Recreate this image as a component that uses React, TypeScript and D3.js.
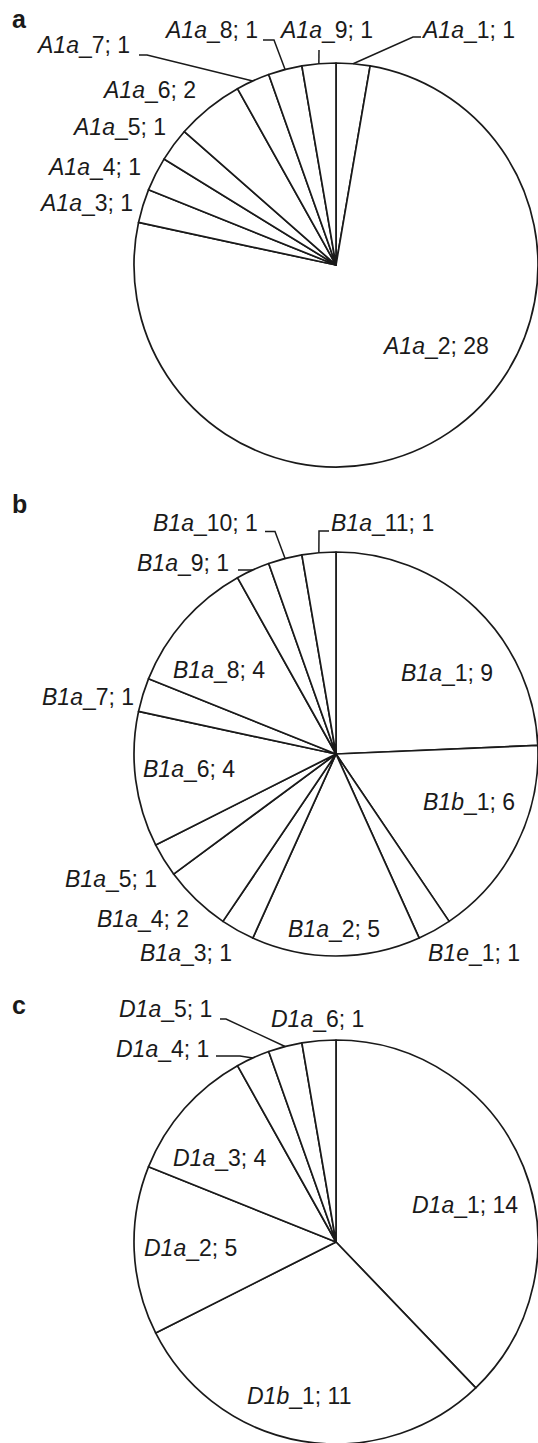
import React from 'react';
import * as d3 from 'd3';

// Panel a
const namesA = ['A1a_1', 'A1a_2', 'A1a_3', 'A1a_4', 'A1a_5', 'A1a_6', 'A1a_7', 'A1a_8', 'A1a_9'];
const valuesA = [1, 28, 1, 1, 1, 2, 1, 1, 1];

// Panel b
const namesB = ['B1a_1', 'B1b_1', 'B1e_1', 'B1a_2', 'B1a_3', 'B1a_4', 'B1a_5', 'B1a_6', 'B1a_7', 'B1a_8', 'B1a_9', 'B1a_10', 'B1a_11'];
const valuesB = [9, 6, 1, 5, 1, 2, 1, 4, 1, 4, 1, 1, 1];

// Panel c
const namesC = ['D1a_1', 'D1b_1', 'D1a_2', 'D1a_3', 'D1a_4', 'D1a_5', 'D1a_6'];
const valuesC = [14, 11, 5, 4, 1, 1, 1];

const W = 538;
const H = 1443;
const R = 202;
const FONT = '"Liberation Sans", Arial, Helvetica, sans-serif';
const INK = '#1a1a1a';

// Label placement relative to each pie centre: text start/baseline and
// optional leader points (the leader starts on the rim at the slice mid-angle).
type LabelLayout = { at: [number, number]; leader?: [number, number][] };

const layoutA: LabelLayout[] = [
  { at: [87, -227], leader: [[77, -228], [85, -228]] },
  { at: [48, 89] },
  { at: [-295, -54] },
  { at: [-287, -90] },
  { at: [-262, -130] },
  { at: [-232, -167] },
  { at: [-298, -212], leader: [[-189, -210], [-197, -210]] },
  { at: [-170, -227], leader: [[-62, -225], [-73, -225]] },
  { at: [-55, -227], leader: [[-17, -215]] },
];

const layoutB: LabelLayout[] = [
  { at: [65, -73] },
  { at: [87, 56] },
  { at: [92, 207] },
  { at: [-48, 183] },
  { at: [-196, 207] },
  { at: [-239, 173] },
  { at: [-271, 133] },
  { at: [-193, 23] },
  { at: [-294, -49] },
  { at: [-163, -76] },
  { at: [-199, -183], leader: [[-98, -184]] },
  { at: [-183, -223], leader: [[-61, -222.5], [-71, -222.5]] },
  { at: [-5, -223], leader: [[-17, -223], [-7, -223]] },
];

const layoutC: LabelLayout[] = [
  { at: [76, -29] },
  { at: [-89, 162] },
  { at: [-192, 14] },
  { at: [-163, -76] },
  { at: [-220, -185], leader: [[-96, -186], [-120, -186]] },
  { at: [-217, -225], leader: [[-110, -223], [-116, -223]] },
  { at: [-65, -215] },
];

type PieProps = {
  names: string[];
  values: number[];
  layout: LabelLayout[];
  cx: number;
  cy: number;
  letter: string;
  letterY: number;
};

function PiePanel({ names, values, layout, cx, cy, letter, letterY }: PieProps) {
  const arcs = d3.pie<number>().sort(null).value((d) => d)(values);
  const arc = d3.arc<d3.PieArcDatum<number>>().innerRadius(0).outerRadius(R);
  const line = d3.line();

  return (
    <g>
      <text x={12} y={letterY} fontFamily={FONT} fontWeight="bold" fontSize={25} fill={INK}>
        {letter}
      </text>
      <g transform={`translate(${cx},${cy})`}>
        {arcs.map((a, i) => (
          <path key={`s${i}`} d={arc(a) || ''} fill="#fff" stroke={INK} strokeWidth={1.7} strokeLinejoin="round" />
        ))}
        {arcs.map((a, i) => {
          const lay = layout[i];
          if (!lay.leader) return null;
          const mid = (a.startAngle + a.endAngle) / 2;
          const start: [number, number] = [R * Math.sin(mid), -R * Math.cos(mid)];
          return (
            <path key={`l${i}`} d={line([start, ...lay.leader]) || ''} fill="none" stroke={INK} strokeWidth={1.5} />
          );
        })}
        {arcs.map((a, i) => {
          const name = names[i];
          const cut = name.indexOf('_');
          const lay = layout[i];
          return (
            <text key={`t${i}`} x={lay.at[0]} y={lay.at[1]} fontFamily={FONT} fontSize={23} fill={INK}>
              <tspan fontStyle="italic">{name.slice(0, cut)}</tspan>
              <tspan>{`${name.slice(cut)}; ${a.data}`}</tspan>
            </text>
          );
        })}
      </g>
    </g>
  );
}

export default function App() {
  return (
    <svg width={W} height={H} style={{ position: 'absolute', left: 0, top: 0, background: '#fff' }}>
      <rect width={W} height={H} fill="#fff" />
      <PiePanel names={namesA} values={valuesA} layout={layoutA} cx={336} cy={265} letter="a" letterY={28} />
      <PiePanel names={namesB} values={valuesB} layout={layoutB} cx={336} cy={754} letter="b" letterY={513} />
      <PiePanel names={namesC} values={valuesC} layout={layoutC} cx={336} cy={1242} letter="c" letterY={1014} />
    </svg>
  );
}
